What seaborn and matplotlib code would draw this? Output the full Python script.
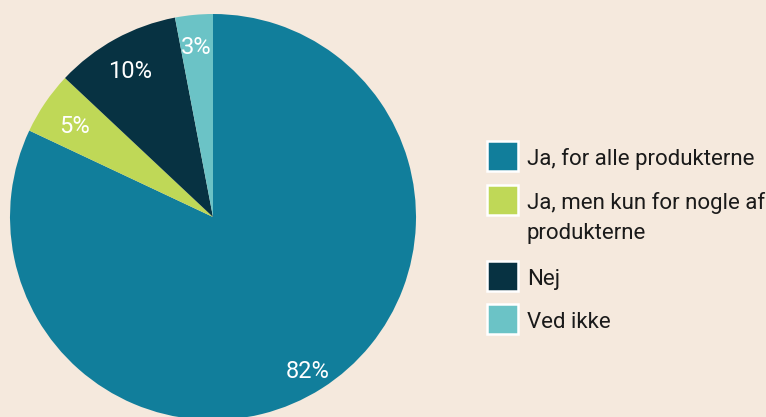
import matplotlib
matplotlib.use("Agg")
import matplotlib.pyplot as plt
import seaborn as sns
import numpy as np
from matplotlib.patches import Rectangle

# data
categories = ["Ja, for alle produkterne",
              "Ja, men kun for nogle af\nprodukterne",
              "Nej",
              "Ved ikke"]
shares = [82, 5, 10, 3]

# styling
colors = ["#117e9b", "#bfd857", "#073242", "#6bc3c6"]
bg = "#f5e9dd"
label_dist = [0.875, 0.825, 0.843, 0.857]   # radial position of each % label

sns.set_theme(style="white")
plt.rcParams['font.family'] = ['Roboto', 'DejaVu Sans']

W, H = 766, 417
fig = plt.figure(figsize=(W / 100, H / 100), dpi=100, facecolor=bg)

# pie placed in pixel terms: centre (213, 217), radius 203
cx, cy, r = 213, 217, 203
pad = 1.02
ax = fig.add_axes([(cx - r * pad) / W, (H - cy - r * pad) / H,
                   2 * r * pad / W, 2 * r * pad / H])
wedges, _, autotexts = ax.pie(shares, colors=colors, startangle=90, counterclock=False,
                              autopct=lambda p: f"{p:.0f}%", pctdistance=0.86,
                              textprops=dict(color="white", fontsize=17),
                              wedgeprops=dict(linewidth=0))
# nudge labels to where the original puts them (digits sit a bit low)
for w, t, d in zip(wedges, autotexts, label_dist):
    ang = np.deg2rad((w.theta1 + w.theta2) / 2)
    t.set_position((d * np.cos(ang), d * np.sin(ang) - 0.02))
ax.set_xlim(-pad, pad)
ax.set_ylim(-pad, pad)
ax.set_aspect('equal')
ax.patch.set_alpha(0)

# legend drawn by hand so the square lines up with the first text line
lg = fig.add_axes([0, 0, 1, 1])
lg.set_xlim(0, W)
lg.set_ylim(H, 0)
lg.axis('off')
lg.patch.set_alpha(0)

row_y = [156, 200, 276, 319]   # square centres in px
for label, col, yc in zip(categories, colors, row_y):
    lg.add_patch(Rectangle((487, yc - 15), 31, 30, facecolor=col,
                           edgecolor='white', linewidth=1.8))
    for i, line in enumerate(label.split("\n")):
        lg.text(527, yc + 9 + i * 30, line, va='baseline', ha='left',
                fontsize=16, color="#1a1a1a")

fig.savefig("out.png", dpi=100, facecolor=bg)
